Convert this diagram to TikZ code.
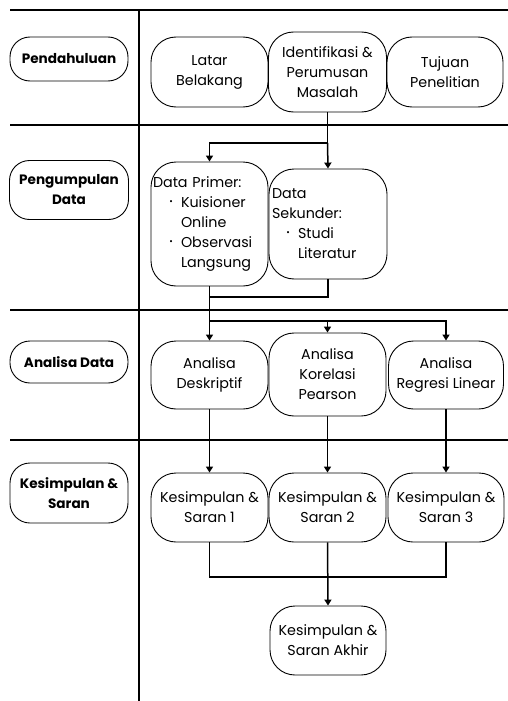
\documentclass[tikz,border=0pt]{standalone}
\usepackage{fontspec}
\setmainfont{Poppins}
\usepackage{graphicx}
\usetikzlibrary{arrows.meta}
\newcommand{\bul}[1]{\makebox[#1][r]{\raisebox{3pt}{\scalebox{0.6}{•}}\hspace{8pt}}}
\begin{document}
\begin{tikzpicture}[x=1pt,y=-1pt,
  lane/.style={line width=2.2pt},
  box/.style={draw, line width=0.9pt, rounded corners=25pt, inner sep=1pt, align=center,
    font=\fontsize{14.3}{20}\selectfont},
  lbox/.style={box, rounded corners=20pt, font=\fontsize{13.6}{20}\selectfont\bfseries},
  conn/.style={line width=1.5pt},
  arr/.style={conn, -{Triangle[length=6pt,width=7pt]}}]
\useasboundingbox (0,0) rectangle (508,701);
% lanes
\draw[lane] (10,10) -- (508,10);
\draw[lane] (10,125) -- (508,125);
\draw[lane] (10,310) -- (508,310);
\draw[lane] (10,440) -- (508,440);
\draw[lane] (139,10) -- (139,701);
% left labels
\node[lbox, minimum width=118pt, minimum height=44pt] (pend) at (69,59) {Pendahuluan};
\node[lbox, minimum width=119pt, minimum height=59pt] (peng) at (69,190) {Pengumpulan\\Data};
\node[lbox, minimum width=118pt, minimum height=42pt] (anal) at (69,362) {Analisa Data};
\node[lbox, minimum width=118pt, minimum height=60pt] (kes) at (69,493) {Kesimpulan \&\\Saran};
% row 1
\node[box, minimum width=117pt, minimum height=70pt] (latar) at (209.5,72) {Latar\\Belakang};
\node[box, minimum width=118pt, minimum height=80pt] (ident) at (327.5,72) {Identifikasi \&\\Perumusan\\Masalah};
\node[box, minimum width=116pt, minimum height=70pt] (tuj) at (445,72) {Tujuan\\Penelitian};
% row 2
\node[box, minimum width=117pt, minimum height=124pt, text width=113pt, align=left] (prim) at (209.5,224)
  {Data Primer:\\\bul{28pt}Kuisioner\\\hspace*{28pt}Online\\\bul{28pt}Observasi\\\hspace*{28pt}Langsung};
\node[box, minimum width=118pt, minimum height=110pt, text width=112pt, align=left] (sek) at (328,224)
  {Data\\Sekunder:\\\bul{26pt}Studi\\\hspace*{26pt}Literatur};
% row 3
\node[box, minimum width=117pt, minimum height=68pt] (desk) at (209.5,375) {Analisa\\Deskriptif};
\node[box, minimum width=117pt, minimum height=83pt] (kor) at (327.5,374.5) {Analisa\\Korelasi\\Pearson};
\node[box, minimum width=115pt, minimum height=68pt] (reg) at (446,375) {Analisa\\Regresi Linear};
% row 4
\node[box, minimum width=117pt, minimum height=69pt] (ks1) at (209.5,507.5) {Kesimpulan \&\\Saran 1};
\node[box, minimum width=117pt, minimum height=69pt] (ks2) at (327.5,507.5) {Kesimpulan \&\\Saran 2};
\node[box, minimum width=116pt, minimum height=69pt] (ks3) at (446,507.5) {Kesimpulan \&\\Saran 3};
\node[box, minimum width=116pt, minimum height=69pt] (ksa) at (328,640.5) {Kesimpulan \&\\Saran Akhir};
% connectors
\coordinate (j1) at (ident.south |- 0,143);
\draw[conn] (ident.south) -- (j1);
\draw[arr] (j1) -| (prim.north);
\draw[arr] (j1) -- (sek.north);
\coordinate (j2) at (prim.south |- 0,297);
\coordinate (j3) at (prim.south |- 0,321);
\draw[conn] (prim.south) -- (j3);
\draw[conn] (sek.south) |- (j2);
\draw[arr] (j3) -- (desk.north);
\draw[arr] (j3) -| (reg.north);
\draw[arr] (kor.north |- j3) -- (kor.north);
\draw[arr] (desk.south) -- (ks1.north);
\draw[arr] (kor.south) -- (ks2.north);
\draw[arr] (reg.south) -- (ks3.north);
\coordinate (j4) at (ks2.south |- 0,577);
\draw[conn] (ks1.south) |- (j4);
\draw[conn] (ks3.south) |- (j4);
\draw[arr] (ks2.south) -- (ksa.north);
\end{tikzpicture}
\end{document}
